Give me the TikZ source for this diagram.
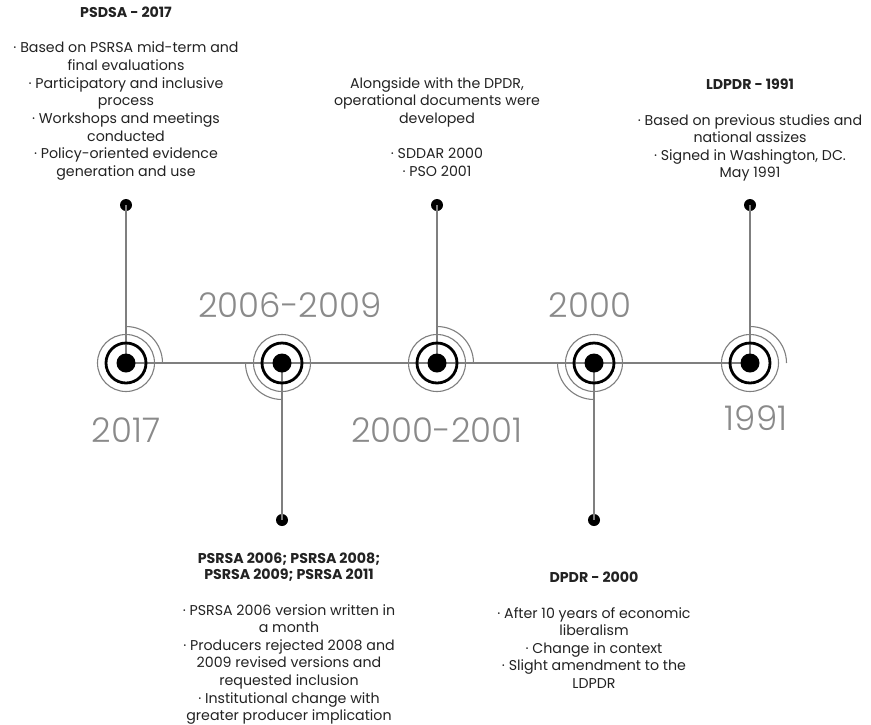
\documentclass[tikz,border=0pt]{standalone}
\usepackage{fontspec}
\setmainfont{Poppins}
\newfontfamily\yearfont{Poppins}[UprightFont={* Light}]
\definecolor{linegrey}{HTML}{7F7F7F}
\definecolor{yeargrey}{HTML}{8A8A8A}
\definecolor{textdark}{HTML}{222222}
\begin{document}
\begin{tikzpicture}[x=1pt,y=-1pt,
  conn/.style={draw=linegrey,line width=1.1pt},
  enddot/.style={circle,fill=black,inner sep=0pt,minimum size=12pt},
  yearlbl/.style={font=\yearfont\fontsize{34}{37}\selectfont,text=yeargrey,inner sep=0pt},
  info/.style={align=center,inner sep=0pt,text=textdark,anchor=north,
    font=\fontsize{14.2}{17.6}\selectfont},
]
\useasboundingbox (0,0) rectangle (871,724);

% milestone centres
\coordinate (m1) at (126,363);
\coordinate (m2) at (282,363);
\coordinate (m3) at (437,363);
\coordinate (m4) at (594,363);
\coordinate (m5) at (750,363);

% ends of the leader lines
\node[enddot] (d1) at (126,205) {};
\node[enddot] (d2) at (282,520) {};
\node[enddot] (d3) at (437,205) {};
\node[enddot] (d4) at (594,520) {};
\node[enddot] (d5) at (750,205) {};

% main axis and leaders
\draw[conn] (m1) -- (m5);
\foreach \i in {1,...,5}{\draw[conn] (m\i) -- (d\i.center);}

% milestone markers
\foreach \i in {1,...,5}{
  \draw[linegrey,line width=1.1pt] (m\i) circle[radius=28.5pt];
  \draw[black,line width=2.8pt] (m\i) circle[radius=20pt];
  \fill[black] (m\i) circle[radius=9.5pt];
}
% quarter arcs facing the leaders
\foreach \i in {1,3,5}{
  \draw[linegrey,line width=1.1pt] ([yshift=36.5pt]m\i) arc[start angle=90,end angle=0,radius=36.5pt];
}
\foreach \i in {2,4}{
  \draw[linegrey,line width=1.1pt] ([xshift=-36.5pt]m\i) arc[start angle=180,end angle=270,radius=36.5pt];
}

% years
\node[yearlbl] (y1) at (126,430) {2017};
\node[yearlbl] (y2) at (290,305) {2006-2009};
\node[yearlbl] (y3) at (437,430) {2000-2001};
\node[yearlbl] (y4) at (590,305) {2000};
\node[yearlbl] (y5) at (756,418) {1991};

% descriptions
\node[info] (t1) at (126,7) {{\bfseries PSDSA - 2017}\\[17.6pt]
  · Based on PSRSA mid-term and\\ final evaluations\\
  · Participatory and inclusive\\ process\\
  · Workshops and meetings\\ conducted\\
  · Policy-oriented evidence\\ generation and use};

\node[info] (t3) at (437,77) {Alongside with the DPDR,\\ operational documents were\\ developed\\[17.6pt]
  · SDDAR 2000\\ · PSO 2001};

\node[info] (t5) at (750,79) {{\bfseries LDPDR - 1991}\\[17.6pt]
  · Based on previous studies and\\ national assizes\\
  · Signed in Washington, DC.\\ May 1991};

\node[info] (t2) at (289,553) {{\bfseries PSRSA 2006; PSRSA 2008;}\\[-1.6pt] {\bfseries PSRSA 2009; PSRSA 2011}\\[17.6pt]
  · PSRSA 2006 version written in\\ a month\\
  · Producers rejected 2008 and\\ 2009 revised versions and\\ requested inclusion\\
  · Institutional change with\\ greater producer implication};

\node[info] (t4) at (594,572) {{\bfseries DPDR - 2000}\\[17.6pt]
  · After 10 years of economic\\ liberalism\\
  · Change in context\\
  · Slight amendment to the\\ LDPDR};
\end{tikzpicture}
\end{document}
